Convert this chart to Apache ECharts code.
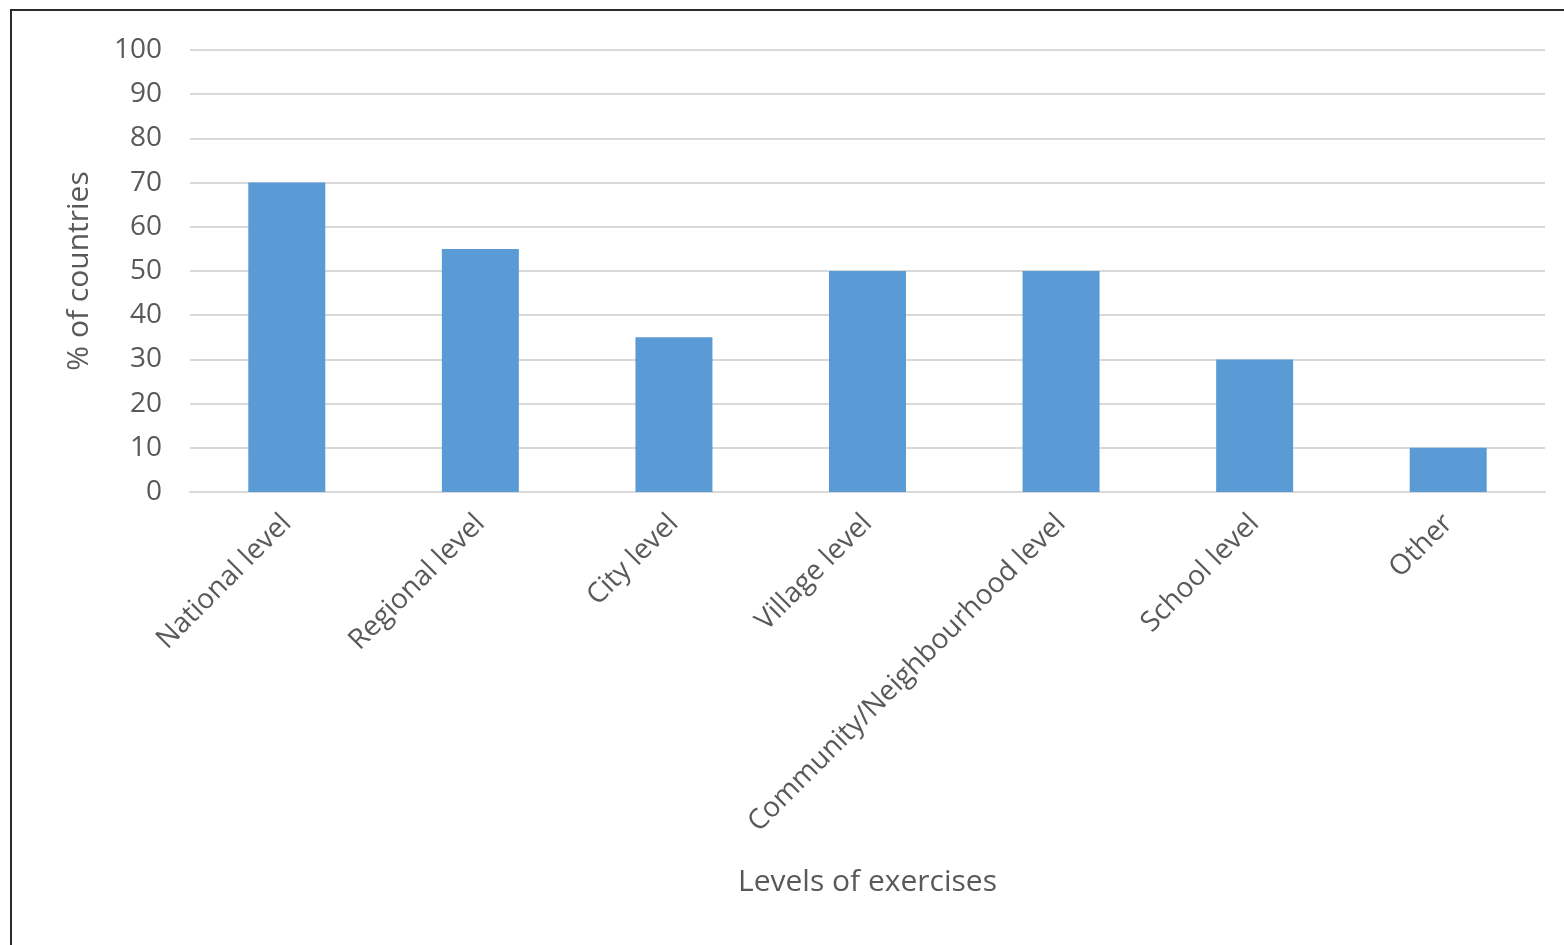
<!DOCTYPE html>
<html>
<head>
<meta charset="utf-8">
<script src="https://cdn.jsdelivr.net/npm/echarts@6/dist/echarts.min.js"></script>
<style>
  body { margin: 0; background: #fff; }
  #frame { position: absolute; left: 10px; top: 9px; width: 1554px; height: 936px;
           border-left: 2px solid #2b2b2b; border-top: 2px solid #2b2b2b; box-sizing: border-box; }
  #main { position: absolute; left: 0; top: 0; width: 1564px; height: 945px; }
</style>
</head>
<body>
<div id="frame"></div>
<div id="main"></div>
<script>
var categories = ['National level', 'Regional level', 'City level', 'Village level',
  'Community/Neighbourhood level', 'School level', 'Other'];
var values = [70, 55, 35, 50, 50, 30, 10];

var font = 'Open Sans';
var txt = '#595959';

var chart = echarts.init(document.getElementById('main'));
chart.setOption({
  animation: false,
  grid: { left: 190, right: 19, top: 50, bottom: 453 },
  xAxis: {
    type: 'category',
    data: categories,
    name: 'Levels of exercises',
    nameLocation: 'middle',
    nameGap: 375,
    nameTextStyle: { color: txt, fontFamily: font, fontSize: 30 },
    axisLine: { lineStyle: { color: '#d9d9d9', width: 2 } },
    axisTick: { show: false },
    axisLabel: { rotate: 45, margin: 27, color: txt, fontFamily: font, fontSize: 28, interval: 0 }
  },
  yAxis: {
    type: 'value',
    min: 0, max: 100, interval: 10,
    name: '% of countries',
    nameLocation: 'middle',
    nameGap: 96,
    nameTextStyle: { color: txt, fontFamily: font, fontSize: 30 },
    axisLine: { show: false },
    axisTick: { show: false },
    axisLabel: { margin: 28, color: txt, fontFamily: font, fontSize: 28 },
    splitLine: { lineStyle: { color: '#d9d9d9', width: 2 } }
  },
  series: [{
    type: 'bar',
    data: values,
    barWidth: 77,
    itemStyle: { color: '#5b9bd5' }
  }]
});
</script>
</body>
</html>
